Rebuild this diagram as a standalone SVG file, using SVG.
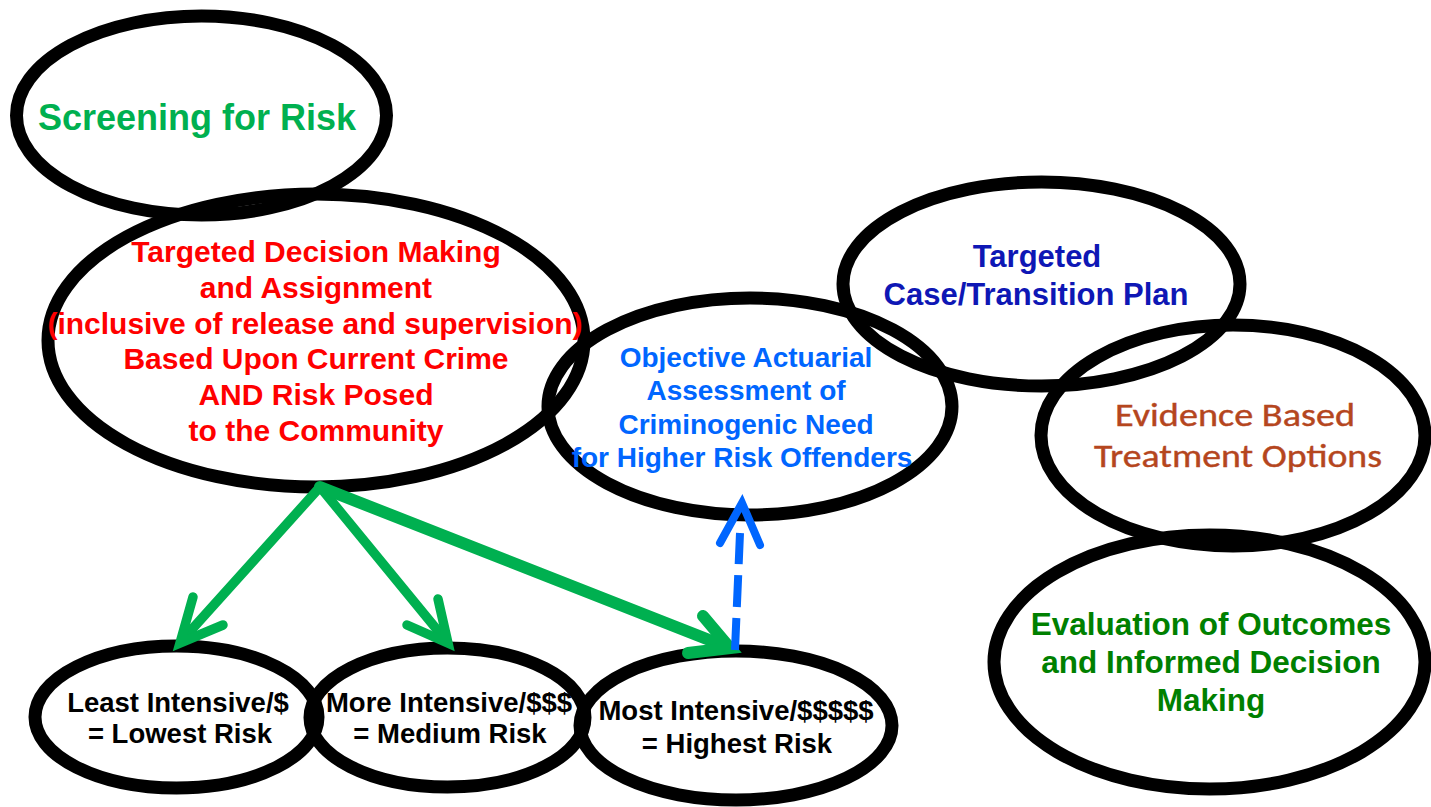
<svg xmlns="http://www.w3.org/2000/svg" width="1431" height="807" viewBox="0 0 1431 807">
  <style>
    .bubble { fill: none; stroke: #000; stroke-width: 13; }
    .t { font-family: "Liberation Sans", Arial, sans-serif; font-weight: bold; text-anchor: middle; }
    .screen { fill: #00B050; font-size: 36px; }
    .decide { fill: #FF0000; font-size: 30px; }
    .assess { fill: #0066FF; font-size: 28px; }
    .plan { fill: #0E17B5; font-size: 31px; }
    .treat { font-family: Carlito, Lato, "Open Sans", sans-serif; font-weight: normal; fill: #B5461E; font-size: 32px; text-anchor: middle; stroke: #B5461E; stroke-width: 0.4; }
    .evalu { fill: #008000; font-size: 31.5px; }
    .tier { fill: #000; font-size: 27.5px; }
    .go { fill: none; stroke: #00B050; stroke-width: 9.5; stroke-linecap: round; stroke-linejoin: miter; }
    .go.wide { stroke-width: 12; }
    .need { fill: none; stroke: #0066FF; stroke-width: 8; }
    .need.dash { stroke-dasharray: 32 11; stroke-linecap: butt; }
    .need.head { stroke-linecap: round; stroke-linejoin: miter; }
  </style>
  <rect width="1431" height="807" fill="#fff"/>

  <!-- outlines of every bubble, drawn first so labels sit on top -->
  <g id="screening">
    <ellipse class="bubble" cx="201.5" cy="115.5" rx="185" ry="99.5"/>
  </g>
  <g id="decision">
    <ellipse class="bubble" cx="316" cy="340.5" rx="268" ry="146.5"/>
  </g>
  <g id="assessment">
    <ellipse class="bubble" cx="750" cy="406.5" rx="202" ry="108.5"/>
  </g>
  <g id="case-plan">
    <ellipse class="bubble" cx="1041.5" cy="284" rx="198.5" ry="102"/>
  </g>
  <g id="treatment">
    <ellipse class="bubble" cx="1233" cy="435.5" rx="192" ry="110.5"/>
  </g>
  <g id="evaluation">
    <ellipse class="bubble" cx="1209.5" cy="662" rx="215.5" ry="127"/>
  </g>
  <g id="tier-low">
    <ellipse class="bubble" cx="176.5" cy="717" rx="141.5" ry="71"/>
  </g>
  <g id="tier-medium">
    <ellipse class="bubble" cx="447.5" cy="717.5" rx="137.5" ry="69.5"/>
  </g>
  <g id="tier-high">
    <ellipse class="bubble" cx="736" cy="725.5" rx="156" ry="74.5"/>
  </g>

  <!-- connectors -->
  <g id="connectors">
    <path class="go" d="M320 487 L185 637"/>
    <path class="go" d="M193 597 L180 643 L223 625"/>
    <path class="go" d="M320 487 L443 637"/>
    <path class="go" d="M438 599 L448 643 L407 625"/>
    <path class="go wide" d="M320 487 L722 645"/>
    <path class="go wide" d="M703 616 L730 648 L688 653"/>
    <path class="need dash" d="M735 650 L740 533"/>
    <path class="need head" d="M720 543 L742 503 L760 545"/>
  </g>

  <!-- labels -->
  <g id="labels">
    <text class="t screen" x="197" y="130">Screening for Risk</text>

    <text class="t decide" x="316" y="262">Targeted Decision Making</text>
    <text class="t decide" x="316" y="298">and Assignment</text>
    <text class="t decide" x="315" y="334">(inclusive of release and supervision)</text>
    <text class="t decide" x="316" y="369">Based Upon Current Crime</text>
    <text class="t decide" x="316" y="405">AND Risk Posed</text>
    <text class="t decide" x="316" y="441">to the Community</text>

    <text class="t assess" x="746" y="367">Objective Actuarial</text>
    <text class="t assess" x="746" y="400">Assessment of</text>
    <text class="t assess" x="746" y="434">Criminogenic Need</text>
    <text class="t assess" x="742" y="467">for Higher Risk Offenders</text>

    <text class="t plan" x="1037" y="267">Targeted</text>
    <text class="t plan" x="1036" y="305">Case/Transition Plan</text>

    <text class="treat" x="1235" y="426" textLength="240" lengthAdjust="spacingAndGlyphs">Evidence Based</text>
    <text class="treat" x="1238" y="467" textLength="288" lengthAdjust="spacingAndGlyphs">Treatment Options</text>

    <text class="t evalu" x="1211" y="635">Evaluation of Outcomes</text>
    <text class="t evalu" x="1211" y="673">and Informed Decision</text>
    <text class="t evalu" x="1211" y="711">Making</text>

    <text class="t tier" x="178" y="712">Least Intensive/$</text>
    <text class="t tier" x="180" y="743">= Lowest Risk</text>
    <text class="t tier" x="449" y="712">More Intensive/$$$</text>
    <text class="t tier" x="450" y="743">= Medium Risk</text>
    <text class="t tier" x="736" y="720">Most Intensive/$$$$$</text>
    <text class="t tier" x="737" y="753">= Highest Risk</text>
  </g>
</svg>
